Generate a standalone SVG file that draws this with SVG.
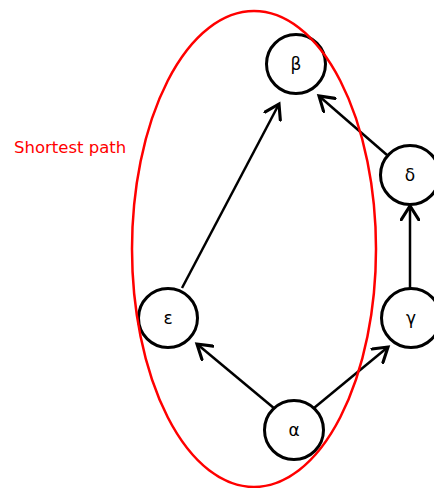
<svg xmlns="http://www.w3.org/2000/svg" width="434" height="488" viewBox="0 0 434 488">
  <style>
    .node circle { fill: #fff; stroke: #000; stroke-width: 3; }
    .node text { font-family: "DejaVu Sans", sans-serif; font-size: 17px; fill: #000; text-anchor: middle; dominant-baseline: central; }
    .edge { stroke: #000; stroke-width: 2.5; fill: none; marker-end: url(#arrow); }
    .label { font-family: "DejaVu Sans", sans-serif; font-size: 16.5px; fill: #ff0000; }
  </style>
  <defs>
    <marker id="arrow" markerUnits="userSpaceOnUse" markerWidth="20" markerHeight="20" refX="12" refY="8" orient="auto" viewBox="0 0 16 16">
      <path d="M1,1 L12,8 L1,15" fill="none" stroke="#000" stroke-width="2.5" stroke-linecap="round" stroke-linejoin="miter"/>
    </marker>
  </defs>

  <rect width="434" height="488" fill="#fff"/>

  <!-- connectors -->
  <g id="edges">
    <line class="edge" x1="182" y1="288" x2="279" y2="104"/>
    <line class="edge" x1="275" y1="409" x2="197" y2="344"/>
    <line class="edge" x1="314" y1="408" x2="388" y2="347"/>
    <line class="edge" x1="410" y1="288" x2="410" y2="206"/>
    <line class="edge" x1="387" y1="155" x2="319" y2="96"/>
  </g>

  <g id="beta" class="node"><circle cx="296" cy="64" r="29.5"/><text x="296" y="64">β</text></g>
  <g id="delta" class="node"><circle cx="410" cy="175" r="29.5"/><text x="410" y="175">δ</text></g>
  <g id="epsilon" class="node"><circle cx="168" cy="318" r="29.5"/><text x="168" y="318">ε</text></g>
  <g id="gamma" class="node"><circle cx="411" cy="318" r="29.5"/><text x="411" y="318">γ</text></g>
  <g id="alpha" class="node"><circle cx="294" cy="430" r="29.5"/><text x="294" y="430">α</text></g>

  <!-- highlighted region, drawn above the nodes -->
  <g id="shortest-path">
    <ellipse cx="254" cy="249" rx="122" ry="238" fill="none" stroke="#ff0000" stroke-width="2.5"/>
    <text class="label" x="14" y="153">Shortest path</text>
  </g>
</svg>
